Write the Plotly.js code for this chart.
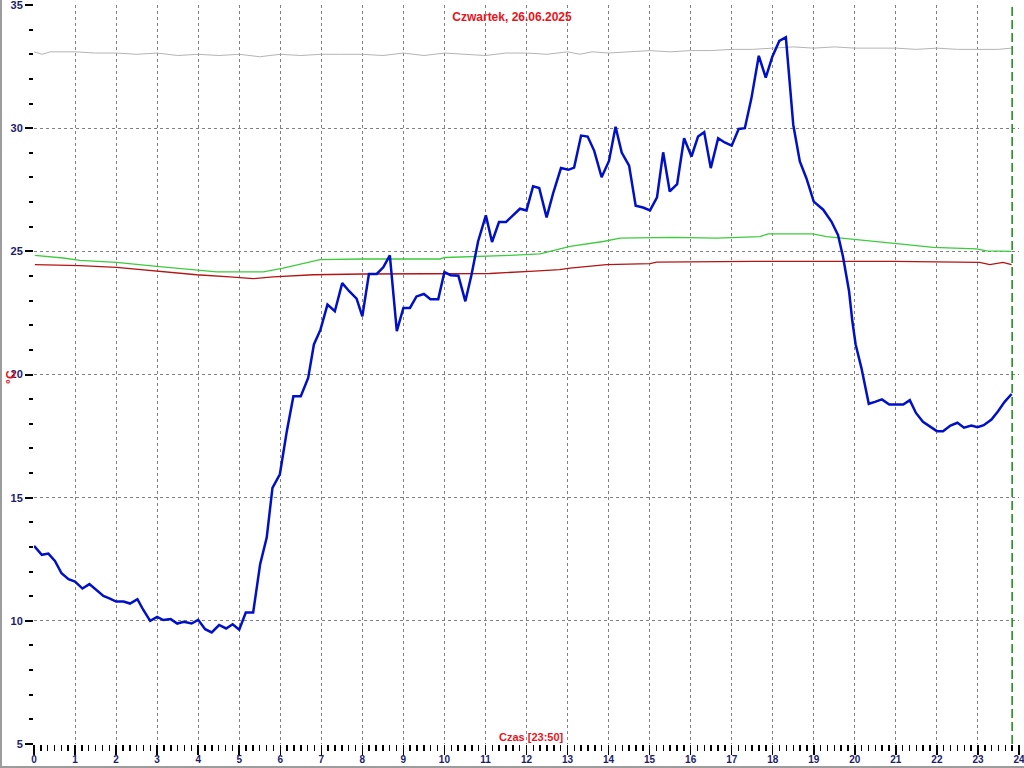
<!DOCTYPE html>
<html>
<head>
<meta charset="utf-8">
<script src="https://cdn.plot.ly/plotly-3.0.1.min.js"></script>
<style>
  html, body { margin: 0; padding: 0; background: #fff; }
  #wrap { position: relative; width: 1024px; height: 768px; }
  #frame { position: absolute; left: 0; top: 0; width: 1024px; height: 768px; box-sizing: border-box;
           border-left: 2px solid #9c9c9c; border-bottom: 2px solid #9c9c9c; pointer-events: none; }
</style>
</head>
<body>
<div id="wrap"><div id="chart"></div><div id="frame"></div></div>
<script>
// ---- data (hours of day, °C) ----
const titleText = "Czwartek, 26.06.2025";
const xAxisLabel = "Czas [23:50]";
const yAxisLabel = "°C";
const nowHour = 23 + 50/60;

const blueHours = [0.00,0.19,0.35,0.51,0.67,0.84,1.00,1.18,1.35,1.53,1.69,1.85,2.00,2.18,2.34,2.52,2.66,2.83,3.00,3.15,3.33,3.49,3.65,3.84,4.00,4.17,4.33,4.51,4.68,4.84,5.00,5.16,5.34,5.51,5.67,5.81,5.99,6.16,6.32,6.50,6.68,6.82,6.98,7.15,7.33,7.51,7.68,7.86,8.00,8.16,8.35,8.51,8.67,8.84,9.00,9.16,9.32,9.50,9.66,9.85,10.00,10.15,10.34,10.51,10.66,10.82,11.01,11.16,11.33,11.50,11.68,11.84,12.00,12.16,12.31,12.49,12.65,12.84,13.02,13.16,13.33,13.49,13.65,13.83,14.01,14.17,14.32,14.50,14.66,14.84,15.01,15.18,15.33,15.49,15.67,15.84,16.02,16.18,16.33,16.49,16.67,16.83,17.00,17.17,17.32,17.48,17.66,17.83,17.99,18.16,18.32,18.50,18.66,18.82,19.00,19.23,19.43,19.59,19.71,19.86,19.94,20.02,20.16,20.34,20.49,20.66,20.84,21.00,21.18,21.34,21.49,21.66,21.83,22.00,22.15,22.33,22.50,22.66,22.84,22.99,23.14,23.33,23.49,23.65,23.82];
const blueTemps = [13.04,12.68,12.73,12.43,11.93,11.69,11.59,11.31,11.49,11.22,11.01,10.90,10.78,10.78,10.70,10.88,10.45,10.00,10.16,10.03,10.07,9.89,9.96,9.89,10.04,9.66,9.53,9.83,9.69,9.86,9.64,10.34,10.34,12.30,13.38,15.40,15.95,17.70,19.12,19.12,19.86,21.22,21.82,22.84,22.57,23.71,23.38,23.08,22.36,24.08,24.08,24.35,24.84,21.76,22.70,22.70,23.17,23.27,23.06,23.06,24.16,24.03,24.01,22.97,24.05,25.40,26.46,25.38,26.19,26.19,26.46,26.73,26.66,27.64,27.57,26.38,27.36,28.38,28.31,28.40,29.70,29.66,29.08,28.01,28.67,30.06,29.01,28.48,26.85,26.78,26.66,27.19,29.02,27.43,27.73,29.59,28.85,29.66,29.84,28.38,29.59,29.42,29.29,29.97,30.00,31.21,32.94,32.05,32.90,33.54,33.69,30.14,28.65,27.97,27.02,26.69,26.21,25.67,24.80,23.38,22.16,21.22,20.27,18.81,18.89,18.99,18.78,18.78,18.78,18.96,18.44,18.08,17.88,17.70,17.70,17.93,18.04,17.84,17.93,17.86,17.94,18.17,18.51,18.89,19.21];

const greenHours = [0.02,0.71,1.12,2.01,2.99,3.96,4.45,5.59,6.07,6.97,8.02,9.89,10.01,11.60,12.33,13.06,13.87,14.28,15.57,16.63,17.69,17.89,18.98,19.31,19.96,21.02,21.91,22.96,23.21,23.82];
const greenTemps = [24.84,24.73,24.63,24.55,24.39,24.26,24.17,24.17,24.32,24.66,24.69,24.69,24.75,24.84,24.90,25.20,25.40,25.54,25.57,25.54,25.60,25.71,25.71,25.60,25.50,25.31,25.16,25.10,25.02,25.00];

const redHours = [0.02,1.12,2.01,2.99,3.96,4.77,5.34,5.83,6.80,8.02,9.97,11.11,12.08,12.81,13.06,13.95,15.01,15.17,17.52,20.93,23.04,23.29,23.61,23.82];
const redTemps = [24.46,24.42,24.35,24.19,24.05,23.96,23.89,23.96,24.05,24.08,24.08,24.10,24.19,24.26,24.32,24.46,24.50,24.56,24.59,24.59,24.55,24.46,24.55,24.46];

const grayHours = [0,0.2,0.4,1,1.5,2,2.5,3,3.5,4,4.5,5,5.5,6,6.5,7,7.5,8,8.5,9,9.5,10,10.5,11,11.5,12,12.5,13,13.3,13.6,14,14.5,15,15.5,16,16.5,17,17.5,18,18.5,19,19.5,20,20.5,21,21.5,22,22.5,23,23.5,23.82];
const grayTemps = [33.10,33.00,33.10,33.10,33.05,33.05,33.00,33.05,32.95,33.00,32.95,33.00,32.90,33.00,32.95,33.00,33.00,33.00,32.95,33.05,32.95,33.05,33.00,32.95,33.05,33.05,33.00,33.10,33.00,33.10,33.05,33.10,33.15,33.10,33.15,33.15,33.20,33.20,33.25,33.30,33.25,33.30,33.25,33.25,33.25,33.20,33.25,33.20,33.20,33.20,33.25];

const xTickVals = Array.from({length: 25}, (_, i) => i);
const yTickVals = [5,10,15,20,25,30,35];

const fontFamily = 'Arial, "Liberation Sans", sans-serif';
const xTickFont = {family: fontFamily, size: 10, color: '#1c1c6c', weight: 'bold'};
const yTickFont = {family: fontFamily, size: 11, color: '#1c1c6c', weight: 'bold'};
const redFont = {family: fontFamily, size: 12, color: '#e8141c', weight: 'bold'};

const traces = [
  {x: grayHours, y: grayTemps, type: 'scatter', mode: 'lines', line: {color: '#b4b4b4', width: 1}, hoverinfo: 'skip'},
  {x: redHours, y: redTemps, type: 'scatter', mode: 'lines', line: {color: '#b41414', width: 1.3}, hoverinfo: 'skip'},
  {x: greenHours, y: greenTemps, type: 'scatter', mode: 'lines', line: {color: '#3ccc3c', width: 1.3}, hoverinfo: 'skip'},
  {x: blueHours, y: blueTemps, type: 'scatter', mode: 'lines', line: {color: '#0010c8', width: 2.5}, hoverinfo: 'skip'}
];

const layout = {
  width: 1024, height: 768, autosize: false,
  margin: {l: 34, r: 5, t: 5, b: 24},
  paper_bgcolor: '#ffffff', plot_bgcolor: '#ffffff',
  showlegend: false,
  title: {text: titleText, x: 0.5, xref: 'container', xanchor: 'center', y: 1 - 17/768, yref: 'container', yanchor: 'middle', font: redFont},
  xaxis: {
    range: [-0.0005, 24.0005], tickvals: xTickVals, ticktext: xTickVals.map(String),
    ticks: 'outside', ticklen: 10, tickwidth: 1.5, tickcolor: '#000', ticklabelstandoff: -4,
    ticklabeloverflow: 'allow',
    showgrid: true, gridcolor: '#808080', gridwidth: 1, griddash: '3px,3px',
    zeroline: false, showline: false, tickfont: xTickFont, fixedrange: true,
    minor: {dtick: 1/6, tick0: 0, ticks: 'outside', ticklen: 6, tickwidth: 1.5, tickcolor: '#000', showgrid: false}
  },
  yaxis: {
    range: [4.999, 35.001], tickvals: yTickVals, ticktext: yTickVals.map(String),
    ticks: 'outside', ticklen: 8, tickwidth: 2, tickcolor: '#000',
    ticklabeloverflow: 'allow',
    showgrid: true, gridcolor: '#808080', gridwidth: 1, griddash: '3px,3px',
    zeroline: false, showline: false, tickfont: yTickFont, fixedrange: true,
    minor: {dtick: 1, tick0: 0, ticks: 'outside', ticklen: 4, tickwidth: 2, tickcolor: '#000', showgrid: false}
  },
  shapes: [
    {type: 'line', xref: 'x', yref: 'paper', x0: nowHour, x1: nowHour, y0: 0, y1: 1,
     line: {color: '#138a13', width: 1.5, dash: '9px,4px'}, layer: 'above'}
  ],
  annotations: [
    {text: xAxisLabel, xref: 'paper', yref: 'paper', x: 0.5046, y: 0.0094, xanchor: 'center', yanchor: 'middle',
     showarrow: false, font: {family: fontFamily, size: 11, color: '#e8141c', weight: 'bold'}},
    {text: yAxisLabel, xref: 'paper', yref: 'y', x: -0.0234, y: 19.9, xanchor: 'center', yanchor: 'middle',
     textangle: -90, showarrow: false, font: {family: fontFamily, size: 12, color: '#e8141c', weight: 'bold'}}
  ]
};

Plotly.newPlot('chart', traces, layout, {staticPlot: true, displayModeBar: false});
</script>
</body>
</html>
